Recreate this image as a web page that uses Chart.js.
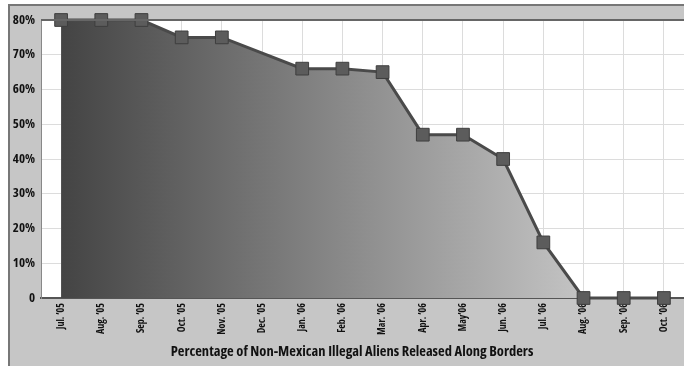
<!DOCTYPE html>
<html>
<head>
<meta charset="utf-8">
<script src="https://cdn.jsdelivr.net/npm/chart.js@4"></script>
<style>
  html, body { margin: 0; padding: 0; background: #fff; }
  #wrap { position: relative; width: 684px; height: 366px; }
</style>
</head>
<body>
<div id="wrap"><canvas id="releaseChart" width="684" height="366"></canvas></div>
<script>
// Meses (eixo X)
const months = ['Jul. ’05', 'Aug. ’05', 'Sep. ’05', 'Oct. ’05', 'Nov. ’05', 'Dec. ’05',
  'Jan. ’06', 'Feb. ’06', 'Mar. ’06', 'Apr. ’06', 'May’06', 'Jun. ’06',
  'Jul. ’06', 'Aug. ’06', 'Sep. ’06', 'Oct. ’06'];

// Percentual liberado por mês (dez/05 sem ponto)
const releasedPct = [80, 80, 80, 75, 75, null, 66, 66, 65, 47, 47, 40, 16, 0, 0, 0];

// Ticks do eixo Y
const yTicks = [0, 10, 20, 30, 40, 50, 60, 70, 80];

const chartTitle = 'Percentage of Non-Mexican Illegal Aliens Released Along Borders';
const family = "'Open Sans', sans-serif";
// peso + largura condensada vão juntos na string da fonte
const boldCond = 'bold condensed';

// Fundo cinza com moldura, área branca e título embaixo
const framePlugin = {
    id: 'frame',
    beforeDraw(chart) {
        const ctx = chart.ctx;
        const a = chart.chartArea;
        ctx.save();
        ctx.fillStyle = '#ffffff';
        ctx.fillRect(0, 0, chart.width, chart.height);
        ctx.fillStyle = '#c6c6c6';
        ctx.fillRect(8, 5, chart.width - 8, chart.height - 5);
        ctx.strokeStyle = '#777777';
        ctx.lineWidth = 2;
        ctx.beginPath();
        ctx.moveTo(9, chart.height);
        ctx.lineTo(9, 5);
        ctx.lineTo(chart.width, 5);
        ctx.stroke();
        ctx.fillStyle = '#ffffff';
        ctx.fillRect(a.left, a.top, a.right - a.left, a.bottom - a.top);
        ctx.restore();
    },
    afterDraw(chart) {
        const ctx = chart.ctx;
        const a = chart.chartArea;
        ctx.save();
        ctx.strokeStyle = '#666666';
        ctx.lineWidth = 2;
        ctx.beginPath();
        ctx.moveTo(a.left, a.top);
        ctx.lineTo(a.right, a.top);
        ctx.stroke();
        ctx.fillStyle = '#111111';
        ctx.font = boldCond + ' 14.5px ' + family;
        ctx.textAlign = 'center';
        ctx.textBaseline = 'middle';
        ctx.fillText(chartTitle, 352, 352);
        ctx.restore();
    }
};

// Gradiente horizontal do preenchimento
function areaGradient(context) {
    const chart = context.chart;
    if (!chart.chartArea) return '#888888';
    const xs = chart.scales.x;
    const g = chart.ctx.createLinearGradient(xs.getPixelForValue(0), 0, xs.getPixelForValue(13), 0);
    g.addColorStop(0, '#444444');
    g.addColorStop(1, '#c4c4c4');
    return g;
}

new Chart(document.getElementById('releaseChart'), {
    type: 'line',
    data: {
        labels: months,
        datasets: [{
            data: releasedPct,
            spanGaps: true,
            fill: 'origin',
            backgroundColor: areaGradient,
            borderColor: '#4a4a4a',
            borderWidth: 3,
            tension: 0,
            pointStyle: 'rect',
            pointRadius: 9,
            pointBackgroundColor: '#5c5c5c',
            pointBorderColor: '#3e3e3e',
            pointBorderWidth: 1,
            clip: false
        }]
    },
    options: {
        responsive: false,
        animation: false,
        layout: { autoPadding: false, padding: { left: 9, top: 20, right: 0, bottom: 0 } },
        plugins: {
            legend: { display: false },
            tooltip: { enabled: false }
        },
        scales: {
            x: {
                offset: true,
                grid: { color: '#dcdcdc', lineWidth: 1, drawTicks: false },
                border: { color: '#555555', width: 2 },
                ticks: {
                    color: '#111111',
                    font: { family: family, weight: boldCond, size: 10 },
                    minRotation: 90,
                    maxRotation: 90,
                    padding: 5,
                    autoSkip: false
                },
                afterFit(scale) {
                    scale.height = 68;
                    scale.paddingLeft = 0;
                    scale.paddingRight = 0;
                }
            },
            y: {
                min: 0,
                max: 80,
                afterBuildTicks(scale) {
                    scale.ticks = yTicks.map(v => ({ value: v }));
                },
                grid: { color: '#dcdcdc', lineWidth: 1, drawTicks: false },
                border: { color: '#888888', width: 1 },
                ticks: {
                    color: '#111111',
                    font: { family: family, weight: boldCond, size: 13 },
                    padding: 6,
                    callback: v => v === 0 ? '0' : v + '%'
                },
                afterFit(scale) {
                    scale.width = 32;
                    scale.paddingTop = 0;
                    scale.paddingBottom = 0;
                }
            }
        }
    },
    plugins: [framePlugin]
});
</script>
</body>
</html>
